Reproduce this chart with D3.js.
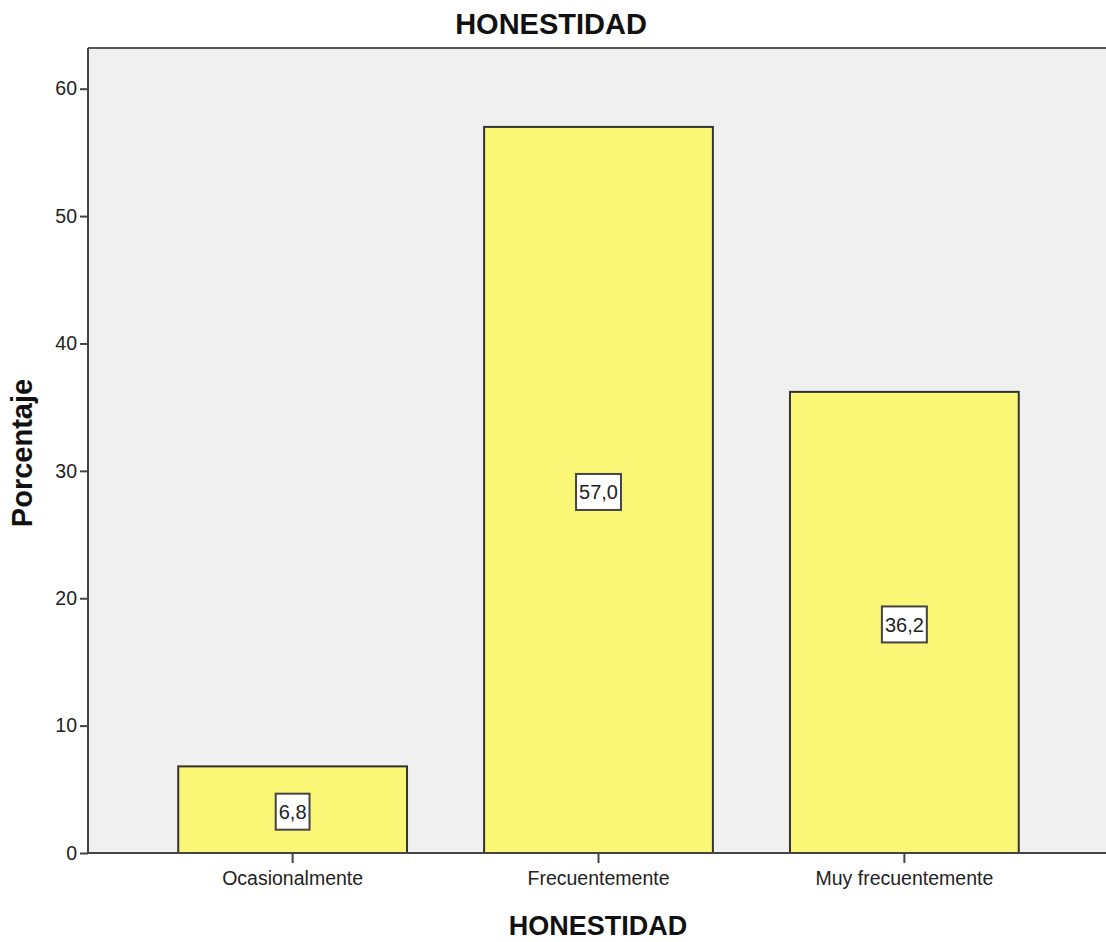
<!DOCTYPE html>
<html>
<head>
<meta charset="utf-8">
<script src="https://cdn.jsdelivr.net/npm/d3@7"></script>
<style>
  body { margin: 0; background: #fff; }
  text { font-family: "Liberation Sans", Arial, sans-serif; fill: #222; }
</style>
</head>
<body>
<div id="chart"></div>
<script>
var categories = ["Ocasionalmente", "Frecuentemente", "Muy frecuentemente"]
var percents = [6.8, 57.0, 36.2]
var labels = ["6,8", "57,0", "36,2"]
var yTicks = [0, 10, 20, 30, 40, 50, 60]

var width = 1106
var height = 942
var plotLeft = 88, plotTop = 48, plotRight = 1109, plotBottom = 853

var svg = d3.select("#chart")
  .append("svg")
    .attr("width", width)
    .attr("height", height)

var x = d3.scaleBand()
  .domain(categories)
  .range([plotLeft, plotRight])
  .paddingInner(0.252)
  .paddingOuter(0.295)

var y = d3.scaleLinear()
  .domain([0, 60])
  .range([plotBottom, 88.7])

// plot background
svg.append("rect")
  .attr("x", plotLeft)
  .attr("y", plotTop)
  .attr("width", width - plotLeft)
  .attr("height", plotBottom - plotTop)
  .style("fill", "#f0f0f0")

// top border
svg.append("line")
  .attr("x1", plotLeft).attr("x2", width)
  .attr("y1", plotTop).attr("y2", plotTop)
  .attr("stroke", "#555").attr("stroke-width", 2)

// bars
svg.append("g")
  .selectAll("rect")
  .data(percents)
  .enter().append("rect")
    .attr("x", (d, i) => x(categories[i]))
    .attr("y", d => y(d))
    .attr("width", x.bandwidth())
    .attr("height", d => y(0) - y(d))
    .style("fill", "#fbf776")
    .attr("stroke", "#333")
    .attr("stroke-width", 2)

// value labels in boxes
var lab = svg.append("g")
  .selectAll("g")
  .data(percents)
  .enter().append("g")
    .attr("transform", (d, i) => "translate(" + (x(categories[i]) + x.bandwidth() / 2) + "," + (y(d / 2) + 2) + ")")

lab.append("text")
  .text((d, i) => labels[i])
  .attr("text-anchor", "middle")
  .attr("dy", "0.36em")
  .style("font-size", "20px")
  .each(function() {
    var b = this.getBBox()
    d3.select(this.parentNode).insert("rect", "text")
      .attr("x", b.x - 3)
      .attr("y", -18)
      .attr("width", b.width + 6)
      .attr("height", 36)
      .style("fill", "#fff")
      .attr("stroke", "#444")
      .attr("stroke-width", 2)
  })

// y axis
var yAxis = svg.append("g")
  .attr("transform", "translate(" + plotLeft + ",0)")
  .call(d3.axisLeft(y).tickValues(yTicks).tickSize(8).tickPadding(3))
yAxis.select(".domain").attr("stroke", "#444").attr("stroke-width", 2)
  .attr("d", "M0," + plotTop + "V" + plotBottom)
yAxis.selectAll(".tick line").attr("stroke", "#444").attr("stroke-width", 2)
yAxis.selectAll(".tick text").style("font-size", "19.5px").attr("fill", "#222")
  .style("font-family", "Liberation Sans, Arial, sans-serif")

// x axis
var xAxis = svg.append("g")
  .attr("transform", "translate(0," + plotBottom + ")")
  .call(d3.axisBottom(x).tickSize(10).tickPadding(8))
xAxis.select(".domain").attr("stroke", "#444").attr("stroke-width", 2)
  .attr("d", "M" + plotLeft + ",0H" + width)
xAxis.selectAll(".tick line").attr("stroke", "#444").attr("stroke-width", 2)
xAxis.selectAll(".tick text").style("font-size", "19.5px").attr("fill", "#222")
  .style("font-family", "Liberation Sans, Arial, sans-serif")

// titles
svg.append("text")
  .text("HONESTIDAD")
  .attr("x", 551)
  .attr("y", 34)
  .attr("text-anchor", "middle")
  .style("font-size", "29px")
  .style("font-weight", "bold")
  .style("fill", "#111")

svg.append("text")
  .text("HONESTIDAD")
  .attr("x", 598)
  .attr("y", 935)
  .attr("text-anchor", "middle")
  .style("font-size", "27px")
  .style("font-weight", "bold")
  .style("fill", "#111")

svg.append("text")
  .text("Porcentaje")
  .attr("transform", "translate(32,453) rotate(-90)")
  .attr("text-anchor", "middle")
  .style("font-size", "29px")
  .style("font-weight", "bold")
  .style("fill", "#111")
</script>
</body>
</html>
